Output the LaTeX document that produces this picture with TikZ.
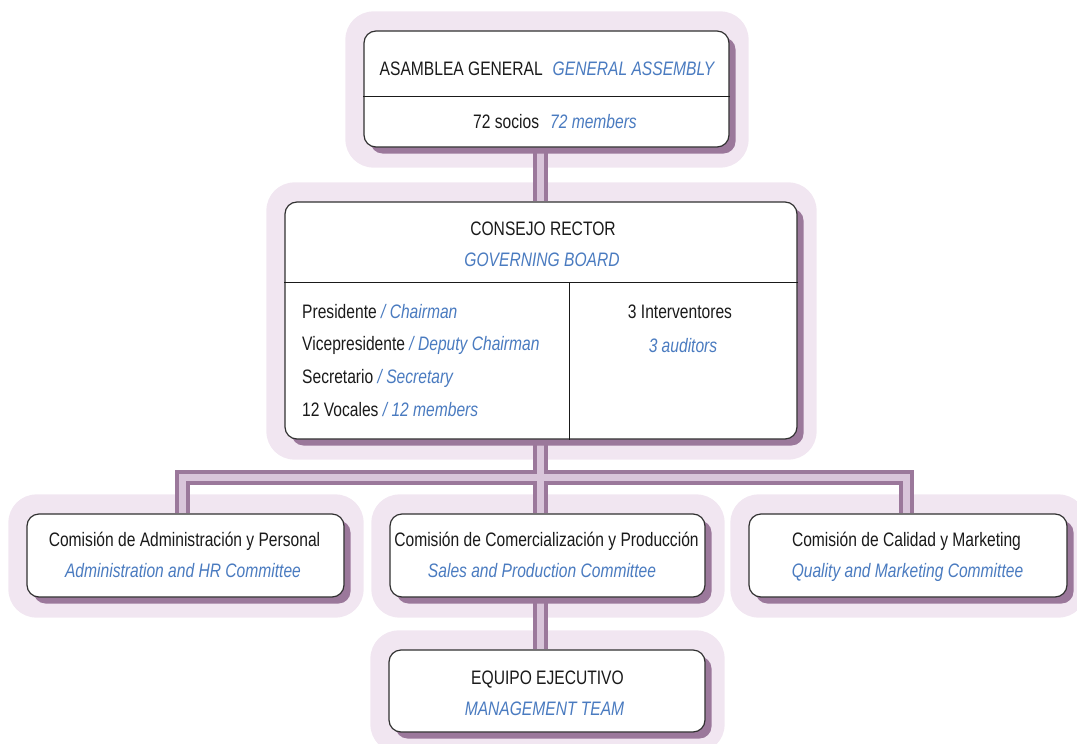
\documentclass[tikz,border=0pt]{standalone}
\usepackage{fontspec}
\setmainfont{Liberation Sans}[FakeStretch=0.8]
\usetikzlibrary{calc,shadows}

\definecolor{halo}{HTML}{F1E6F1}
\definecolor{plum}{HTML}{9B789B}
\definecolor{lilac}{HTML}{D9C5DA}
\definecolor{ink}{HTML}{1A1A1A}
\definecolor{engl}{HTML}{4A7BC0}

\pgfdeclarelayer{halos}
\pgfdeclarelayer{wires}
\pgfsetlayers{halos,wires,main}

\tikzset{
  box/.style={rectangle, draw=ink!90, line width=1.2pt, fill=white,
    rounded corners=12pt, inner sep=0pt,
    general shadow={fill=plum, shadow xshift=6.5pt, shadow yshift=-6.5pt}},
  haloarea/.style={fill=halo, rounded corners=28pt},
  wire/.style={draw=plum, line width=4pt, double=lilac, double distance=7pt},
  rule/.style={draw=ink, line width=1.1pt},
  txt/.style={text=ink, font=\fontsize{19.5}{21}\selectfont, anchor=base, inner sep=0pt},
  eng/.style={text=engl, font=\fontsize{19.5}{21}\selectfont\itshape, anchor=base, inner sep=0pt},
  lst/.style={txt, anchor=base west},
}
\newcommand{\en}[1]{\textcolor{engl}{\itshape #1}}

\begin{document}
\begin{tikzpicture}[x=1pt,y=-1pt]
\useasboundingbox (0,0) rectangle (1077,744);
\clip (0,0) rectangle (1077,744);

% boxes
\node[box, minimum width=365pt, minimum height=116pt] (ag) at (546.5,89) {};
\node[box, minimum width=512pt, minimum height=237pt] (cr) at (541,320.5) {};
\node[box, minimum width=317pt, minimum height=83pt] (c1) at (185.5,555.5) {};
\node[box, minimum width=315pt, minimum height=83pt] (c2) at (547.5,555.5) {};
\node[box, minimum width=318pt, minimum height=83pt] (c3) at (908,555.5) {};
\node[box, minimum width=316pt, minimum height=82pt] (eq) at (547,691) {};

% soft areas behind each box
\begin{pgfonlayer}{halos}
  \foreach \n in {ag,cr,c1,c2,c3,eq}
    \fill[haloarea] ($(\n.north west)+(-18,-19)$) rectangle ($(\n.south east)+(19,20)$);
\end{pgfonlayer}

% connectors
\coordinate (spine) at (540,477);
\begin{pgfonlayer}{wires}
  \draw[wire]
    (spine |- ag.south) -- (spine |- cr.north)
    (spine |- cr.south) -- (spine |- c2.north)
    (spine |- c2.south) -- (spine |- eq.north)
    ([xshift=-3pt]c1.north) |- (spine) -| ([xshift=-2pt]c3.north);
\end{pgfonlayer}

% dividers
\draw[rule] ($(ag.north west)+(0,66)$) -- ($(ag.north east)+(0,66)$);
\draw[rule] ($(cr.north west)+(0,81)$) -- ($(cr.north east)+(0,81)$);
\draw[rule] ($(cr.north west)+(285,81)$) -- ($(cr.south west)+(285,0)$);

% texts
\node[txt] (agA) at (547,75) {ASAMBLEA GENERAL\hspace{10pt}\en{GENERAL ASSEMBLY}};
\node[txt] (agB) at (555,128.5) {72 socios\hspace{11pt}\en{72 members}};

\node[txt] (crA) at (543,235) {CONSEJO RECTOR};
\node[eng] (crB) at (542,266) {GOVERNING BOARD};
\node[lst] (crL1) at (302,318) {Presidente \en{/ Chairman}};
\node[lst] (crL2) at (302,350.5) {Vicepresidente \en{/ Deputy Chairman}};
\node[lst] (crL3) at (302,383.3) {Secretario \en{/ Secretary}};
\node[lst] (crL4) at (302,416) {12 Vocales \en{/ 12 members}};
\node[txt] (crR1) at (680,318) {3 Interventores};
\node[eng] (crR2) at (683,352) {3 auditors};

\node[txt] (c1A) at (184.5,546.5) {Comisión de Administración y Personal};
\node[eng] (c1B) at (183,577) {Administration and HR Committee};
\node[txt] (c2A) at (546.5,546.5) {Comisión de Comercialización y Producción};
\node[eng] (c2B) at (542,577) {Sales and Production Committee};
\node[txt] (c3A) at (906.5,546.5) {Comisión de Calidad y Marketing};
\node[eng] (c3B) at (907.5,577) {Quality and Marketing Committee};

\node[txt] (eqA) at (547.5,684.3) {EQUIPO EJECUTIVO};
\node[eng] (eqB) at (544.5,715) {MANAGEMENT TEAM};
\end{tikzpicture}
\end{document}
